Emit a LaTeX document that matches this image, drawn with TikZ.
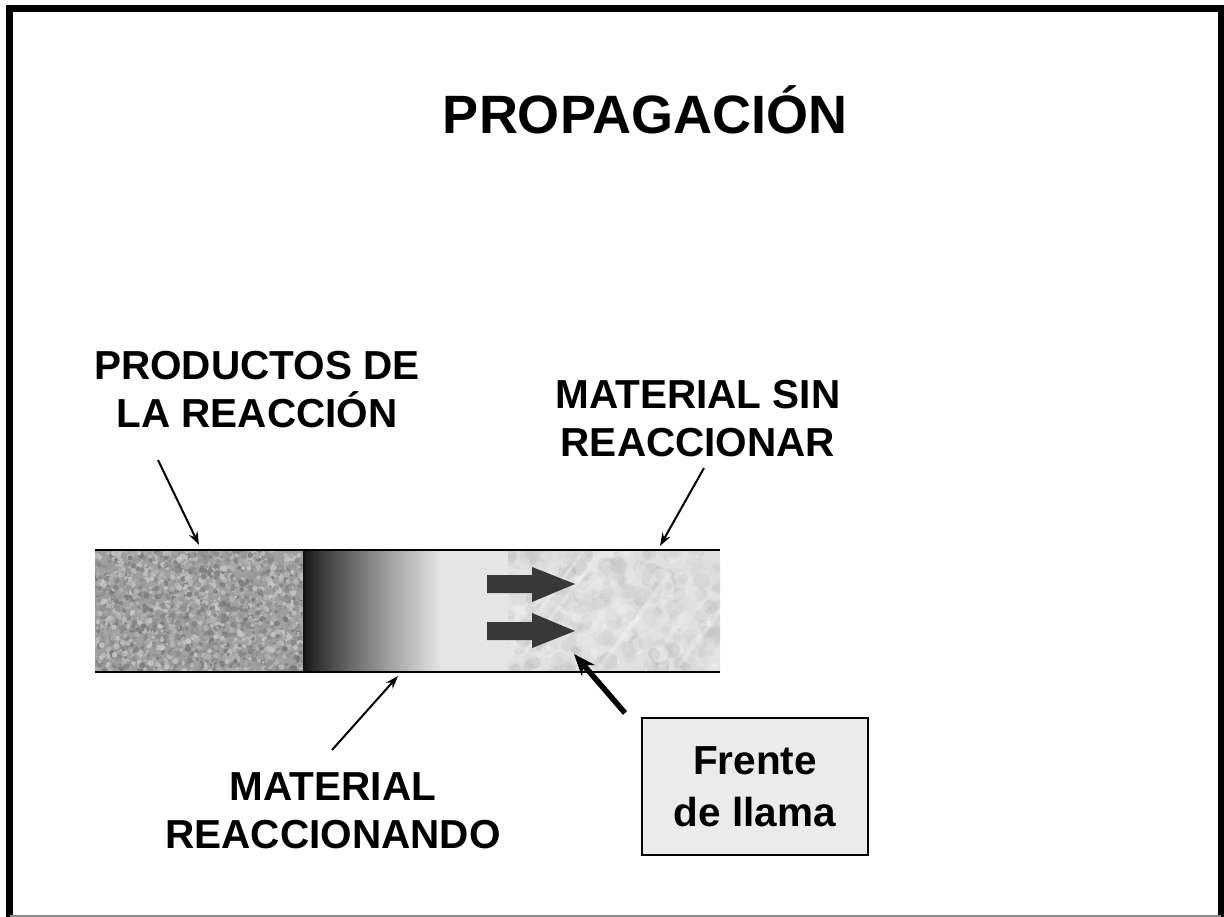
\documentclass[tikz,border=0pt]{standalone}
\usepackage{fontspec}
\setmainfont{Liberation Sans}
\usetikzlibrary{arrows.meta}
\begin{document}
\begin{tikzpicture}[x=1pt,y=-1pt,
  lbl/.style={font=\fontsize{40.5}{48}\selectfont\bfseries, align=center, inner sep=0pt, anchor=north},
  ptr/.style={line width=2pt, -{Stealth[length=13pt,width=9pt]}},
  boldptr/.style={line width=5.5pt, -{Stealth[length=22pt,width=17pt]}},
  blockarrow/.style={fill=black!78},
  barline/.style={line width=2.5pt},
  infobox/.style={draw=black, line width=2pt, fill=black!8, minimum width=226pt, minimum height=137pt, inner sep=0pt, align=center, font=\fontsize{40.5}{52}\selectfont\bfseries}]
\useasboundingbox (0,0) rectangle (1224,917);
\fill[white] (0,0) rectangle (1224,917);
% frame
\draw[line width=7pt] (9.5,917) -- (9.5,8.5) -- (1221,8.5) -- (1221,917);
\draw[black!45, line width=1.5pt] (9.5,916) -- (1221,916);
% title
\node[font=\fontsize{54}{60}\selectfont\bfseries, inner sep=0pt, anchor=base] (title) at (645,134) {PROPAGACIÓN};
% left texture (products)
\begin{scope}
\clip (95,550) rectangle (303,672);
\fill[black!38] (95,550) rectangle (303,672);
\pgfmathsetseed{7}
\foreach \i in {1,...,2600}{
  \pgfmathsetmacro\px{95+208*rnd}
  \pgfmathsetmacro\py{550+122*rnd}
  \pgfmathsetmacro\pr{1.2+2*rnd}
  \pgfmathsetmacro\pc{20+34*rnd}
  \fill[black!\pc, opacity=0.8] (\px,\py) circle[radius=\pr];
}
\end{scope}
% gradient (reacting)
\foreach \i in {0,...,69}{
  \pgfmathsetmacro\gc{92-82*(\i/69)^0.85}
  \fill[black!\gc] ({303+2*\i},550) rectangle ({305.6+2*\i},672);
}
\fill[black!10] (441,550) rectangle (508,672);
% right texture (unreacted, marble)
\begin{scope}
\clip (508,550) rectangle (720,672);
\fill[black!12] (508,550) rectangle (720,672);
\pgfmathsetseed{11}
\foreach \i in {1,...,700}{
  \pgfmathsetmacro\px{508+212*rnd}
  \pgfmathsetmacro\py{550+122*rnd}
  \pgfmathsetmacro\pr{2+7*rnd}
  \pgfmathsetmacro\pc{3+24*rnd}
  \fill[black!\pc, opacity=0.35] (\px,\py) circle[radius=\pr];
}
\foreach \sx/\sy/\w in {520/660/4, 600/668/5, 680/665/4, 540/610/3}{
  \draw[white, opacity=0.25, line width=\w pt] (\sx,\sy) -- ++(70,-95);
}
\end{scope}
% block arrows
\fill[blockarrow] (487,575) -- (532,575) -- (532,567) -- (575,584) -- (532,602) -- (532,593) -- (487,593) -- cycle;
\fill[blockarrow] (487,622) -- (532,622) -- (532,613) -- (575,631) -- (532,648) -- (532,640) -- (487,640) -- cycle;
% bar lines
\draw[barline] (95,550) -- (720,550);
\draw[barline] (95,672) -- (720,672);
% labels
\node[lbl] (prod) at (257,351) {PRODUCTOS DE\\LA REACCIÓN};
\node[lbl] (sin) at (698,380) {MATERIAL SIN\\REACCIONAR};
\node[lbl] (react) at (333,772) {MATERIAL\\REACCIONANDO};
\node[infobox] (frente) at (755,786.5) {Frente\\de llama};
% connectors
\coordinate (a1s) at (158,460); \coordinate (a1e) at (199,545);
\coordinate (a2s) at (704,468); \coordinate (a2e) at (660,546);
\coordinate (a3s) at (332,750); \coordinate (a3e) at (398,676);
\coordinate (a4s) at (625,713); \coordinate (a4e) at (574,654);
\draw[ptr] (a1s) -- (a1e);
\draw[ptr] (a2s) -- (a2e);
\draw[ptr] (a3s) -- (a3e);
\draw[boldptr] (a4s) -- (a4e);
\end{tikzpicture}
\end{document}
